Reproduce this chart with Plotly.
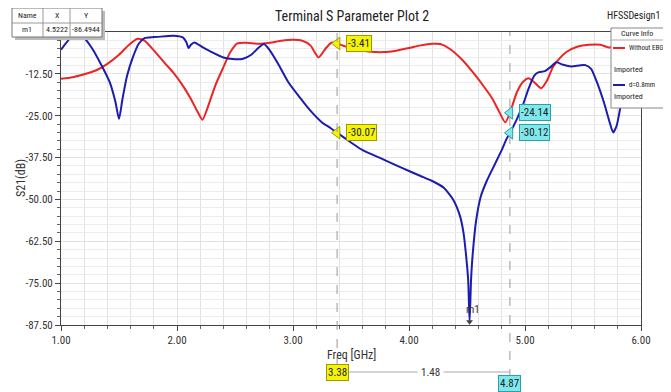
import plotly.graph_objects as go

# ---------------- data ----------------
freq_red = [1.0, 1.1, 1.2, 1.3, 1.4, 1.5, 1.58, 1.66, 1.72, 1.8, 1.9, 1.97, 2.05, 2.12, 2.18, 2.22,
            2.26, 2.33, 2.40, 2.46, 2.52, 2.6, 2.7, 2.8, 2.9, 3.0, 3.08, 3.15, 3.22, 3.28, 3.33,
            3.38, 3.45, 3.55, 3.65, 3.78, 3.9, 4.0, 4.1, 4.2, 4.27, 4.35, 4.45, 4.55, 4.65, 4.72,
            4.78, 4.83, 4.87, 4.93, 4.98, 5.03, 5.08, 5.14, 5.19, 5.24, 5.30, 5.36, 5.45, 5.55,
            5.65, 5.72, 5.8, 5.9, 6.0]
s21_red = [-14.0, -13.5, -12.6, -11.5, -9.5, -6.8, -4.0, -2.0, -2.6, -5.5, -9.5, -12.2, -16.0, -20.0,
           -24.0, -26.2, -23.0, -16.0, -10.5, -6.0, -3.4, -3.2, -3.5, -3.2, -2.6, -2.3, -2.6, -4.0,
           -7.6, -5.0, -3.2, -3.41, -4.3, -5.2, -5.8, -6.0, -5.5, -4.8, -4.0, -3.5, -3.6, -5.0,
           -8.0, -12.0, -16.5, -20.0, -24.0, -27.0, -24.14, -18.0, -15.0, -13.8, -15.0, -16.8,
           -14.5, -10.5, -7.8, -5.9, -4.4, -3.8, -3.8, -4.6, -4.2, -3.6, -3.2]

freq_blue = [1.0, 1.05, 1.1, 1.15, 1.2, 1.27, 1.35, 1.42, 1.47, 1.5, 1.53, 1.57, 1.62, 1.67, 1.72,
             1.8, 1.9, 1.97, 2.05, 2.08, 2.1, 2.12, 2.15, 2.22, 2.3, 2.4, 2.48, 2.57, 2.64, 2.7,
             2.75, 2.8, 2.88, 2.96, 3.06, 3.15, 3.25, 3.32, 3.38, 3.5, 3.6, 3.75, 3.9, 4.0, 4.1,
             4.2, 4.3, 4.38, 4.44, 4.47, 4.49, 4.51, 4.5222, 4.535, 4.55, 4.58, 4.62, 4.67, 4.74,
             4.8, 4.84, 4.87, 4.93, 4.98, 5.03, 5.08, 5.12, 5.17, 5.22, 5.27, 5.33, 5.4, 5.47,
             5.52, 5.57, 5.62, 5.68, 5.73, 5.76, 5.79, 5.83, 5.87, 5.92, 6.0]
s21_blue = [-5.3, -3.0, -1.2, -0.6, -1.8, -5.0, -10.0, -15.0, -21.0, -26.0, -20.0, -13.0, -7.5, -3.5,
            -1.8, -1.5, -1.3, -1.1, -1.6, -3.0, -4.8, -3.8, -3.1, -4.5, -6.0, -7.6, -8.1, -8.0,
            -6.8, -4.8, -3.6, -5.5, -10.0, -15.0, -19.6, -23.5, -27.0, -28.6, -30.07, -33.0,
            -35.3, -37.6, -40.0, -41.5, -43.0, -44.5, -46.5, -50.0, -55.0, -60.0, -66.0, -74.0,
            -86.4944, -74.0, -66.0, -56.0, -49.0, -44.5, -39.5, -35.2, -32.0, -30.12, -26.0,
            -22.0, -17.0, -13.0, -12.0, -11.7, -10.5, -9.0, -9.8, -10.3, -10.0, -9.9, -11.0,
            -15.0, -21.0, -27.0, -30.0, -28.0, -21.0, -14.0, -10.0, -8.0]

x_ticks = [1, 2, 3, 4, 5, 6]
x_ticklabels = ["1.00", "2.00", "3.00", "4.00", "5.00", "6.00"]
y_ticks = [-87.5, -75, -62.5, -50, -37.5, -25, -12.5]
y_ticklabels = ["-87.50", "-75.00", "-62.50", "-50.00", "-37.50", "-25.00", "-12.50"]

marker_freqs = [3.38, 4.87]
marker_red_vals = [-3.41, -24.14]
marker_blue_vals = [-30.07, -30.12]
marker_colors = ["#f4f40a", "#7fe8ec"]
marker_borders = ["#a09a00", "#2aa0a8"]
m1_x, m1_y = 4.5222, -86.4944
delta_label = "1.48"

# ---------------- layout helpers ----------------
# the page body has an 8px margin, so the figure is drawn 8px in from the window's corner
OFF = 8
W, H = 671 - 2 * OFF, 392 - OFF
L, R, T = 61 - OFF, 641 - OFF, 32 - OFF
R = W - R
B = H - (325 - OFF)
PW, PH = W - L - R, H - T - B


def px(x):  # window pixel -> paper x
    return (x - OFF - L) / PW


def py(y):  # window pixel -> paper y
    return (H - B - (y - OFF)) / PH


FONT = "Liberation Sans Narrow, Roboto Condensed, Liberation Sans, Arial"
RED = "#ec2424"
BLUE = "#1c1cb0"

fig = go.Figure()
fig.add_trace(go.Scatter(x=freq_red, y=s21_red, mode="lines", name="Without EBG",
                         line=dict(color=RED, width=2, shape="spline", smoothing=0.6)))
fig.add_trace(go.Scatter(x=freq_blue, y=s21_blue, mode="lines", name="d=0.8mm",
                         line=dict(color=BLUE, width=2, shape="spline", smoothing=0.6)))

shapes = []
annotations = []


def ann(**kw):
    kw.setdefault("showarrow", False)
    kw.setdefault("xanchor", "center")
    kw.setdefault("yanchor", "middle")
    annotations.append(kw)


# marker vertical dashed lines
bottoms = [py(366), py(378)]
for f, yb in zip(marker_freqs, bottoms):
    shapes.append(dict(type="line", xref="x", yref="paper", x0=f, x1=f, y0=yb, y1=1,
                       line=dict(color="#999999", width=1, dash="dash")))

# callout labels
pts_x, pts_y, pts_c, pts_b = [], [], [], []
for f, rv, bv, c, bc in zip(marker_freqs, marker_red_vals, marker_blue_vals, marker_colors, marker_borders):
    for v in (rv, bv):
        ann(x=f, y=v, xref="x", yref="y", text="%.2f" % v, xanchor="left", xshift=9,
            font=dict(family=FONT, size=11, color="#222"),
            bgcolor=c, bordercolor=bc, borderwidth=1, borderpad=1)
        pts_x.append(f)
        pts_y.append(v)
        pts_c.append(c)
        pts_b.append(bc)
fig.add_trace(go.Scatter(x=pts_x, y=pts_y, mode="markers", showlegend=False, hoverinfo="skip",
                         marker=dict(symbol="triangle-left", size=11, color=pts_c,
                                     line=dict(color=pts_b, width=1))))

# m1 marker
fig.add_trace(go.Scatter(x=[m1_x], y=[m1_y], mode="markers", showlegend=False, hoverinfo="skip",
                         marker=dict(symbol="triangle-down", size=6, color="#444")))
ann(x=m1_x, y=m1_y, xref="x", yref="y", text="m1", yshift=12, xshift=3,
    font=dict(family=FONT, size=11, color="#333"))

# bottom delta line
shapes.append(dict(type="line", xref="x", yref="paper", x0=marker_freqs[0], x1=marker_freqs[1],
                   y0=py(372), y1=py(372), line=dict(color="#aaaaaa", width=1)))
ann(x=marker_freqs[0], y=py(372), xref="x", yref="paper", text="%.2f" % marker_freqs[0],
    font=dict(family=FONT, size=11, color="#222"),
    bgcolor=marker_colors[0], bordercolor=marker_borders[0], borderwidth=1, borderpad=1)
ann(x=(marker_freqs[0] + marker_freqs[1]) / 2 + 0.06, y=py(372), xref="x", yref="paper",
    text=delta_label, font=dict(family=FONT, size=11, color="#333"), bgcolor="white", borderpad=3)
ann(x=marker_freqs[1], y=py(383), xref="x", yref="paper", text="%.2f" % marker_freqs[1],
    font=dict(family=FONT, size=11, color="#222"),
    bgcolor=marker_colors[1], bordercolor=marker_borders[1], borderwidth=1, borderpad=1)

# axis titles
ann(x=px(352), y=py(355), xref="paper", yref="paper", text="Freq [GHz]",
    font=dict(family=FONT, size=12, color="#333"))
ann(x=px(21), y=py(178), xref="paper", yref="paper", text="S21(dB)", textangle=-90,
    font=dict(family=FONT, size=12, color="#333"))

# title and design name
ann(x=px(352), y=py(16), xref="paper", yref="paper", text="Terminal S Parameter Plot 2",
    font=dict(family=FONT, size=14, color="#222"))
ann(x=px(662), y=py(15), xref="paper", yref="paper", text="HFSSDesign1", xanchor="right",
    font=dict(family=FONT, size=10, color="#222"))

# marker table (top-left)
shapes.append(dict(type="rect", xref="paper", yref="paper", x0=px(15), x1=px(105), y0=py(40), y1=py(11),
                   fillcolor="#bbbbbb", line=dict(width=0), layer="above"))
shapes.append(dict(type="rect", xref="paper", yref="paper", x0=px(12), x1=px(102), y0=py(37), y1=py(8),
                   fillcolor="white", line=dict(color="#777777", width=1), layer="above"))
shapes.append(dict(type="line", xref="paper", yref="paper", x0=px(12), x1=px(102), y0=py(23), y1=py(23),
                   line=dict(color="#999999", width=1), layer="above"))
for cx in (43, 70):
    shapes.append(dict(type="line", xref="paper", yref="paper", x0=px(cx), x1=px(cx), y0=py(37), y1=py(8),
                       line=dict(color="#999999", width=1), layer="above"))
table_cells = [("Name", 27, 15.5), ("X", 57, 15.5), ("Y", 86, 15.5),
               ("m1", 27, 30), ("%.4f" % m1_x, 57, 30), ("%.4f" % m1_y, 86, 30)]
for t, cx, cy in table_cells:
    ann(x=px(cx), y=py(cy), xref="paper", yref="paper", text=t,
        font=dict(family=FONT, size=8, color="#222"))

# curve info box (top-right)
shapes.append(dict(type="rect", xref="paper", yref="paper", x0=px(611), x1=px(690), y0=py(108), y1=py(28),
                   fillcolor="white", line=dict(color="#888888", width=1), layer="above"))
shapes.append(dict(type="line", xref="paper", yref="paper", x0=px(611), x1=px(690), y0=py(40), y1=py(40),
                   line=dict(color="#aaaaaa", width=1), layer="above"))
ann(x=px(637), y=py(34), xref="paper", yref="paper", text="Curve Info",
    font=dict(family=FONT, size=8, color="#222"))
legend_rows = [("Without EBG", RED, 48, 69), ("d=0.8mm", BLUE, 85, 96)]
for name, col, ly, iy in legend_rows:
    shapes.append(dict(type="line", xref="paper", yref="paper", x0=px(613), x1=px(625), y0=py(ly), y1=py(ly),
                       line=dict(color=col, width=2), layer="above"))
    ann(x=px(627), y=py(ly), xref="paper", yref="paper", text=name, xanchor="left",
        font=dict(family=FONT, size=7, color="#222"))
    ann(x=px(612), y=py(iy), xref="paper", yref="paper", text="Imported", xanchor="left",
        font=dict(family=FONT, size=8, color="#222"))

fig.update_layout(
    width=W, height=H,
    margin=dict(l=L, r=R, t=T, b=B, autoexpand=False),
    paper_bgcolor="white", plot_bgcolor="white",
    showlegend=False,
    shapes=shapes, annotations=annotations,
    font=dict(family=FONT, size=11, color="#333"),
    xaxis=dict(range=[1, 6], tickvals=x_ticks, ticktext=x_ticklabels, showgrid=True, gridcolor="#e2e2e2",
               gridwidth=1, ticks="outside", ticklen=5, tickcolor="#444", showline=True, linecolor="#444",
               mirror=True, zeroline=False, tickfont=dict(family=FONT, size=11, color="#333"),
               minor=dict(dtick=0.2, tick0=1, showgrid=True, gridcolor="#e2e2e2", ticks="outside",
                          ticklen=3, tickcolor="#666")),
    yaxis=dict(range=[-87.5, 0], tickvals=y_ticks, ticktext=y_ticklabels, showgrid=True, gridcolor="#e2e2e2",
               gridwidth=1, ticks="outside", ticklen=5, tickcolor="#444", showline=True, linecolor="#444",
               mirror=True, zeroline=False, tickfont=dict(family=FONT, size=11, color="#333"),
               minor=dict(dtick=2.5, tick0=0, showgrid=True, gridcolor="#ececec", ticks="outside",
                          ticklen=3, tickcolor="#666")),
)

fig.write_html("out.html")
